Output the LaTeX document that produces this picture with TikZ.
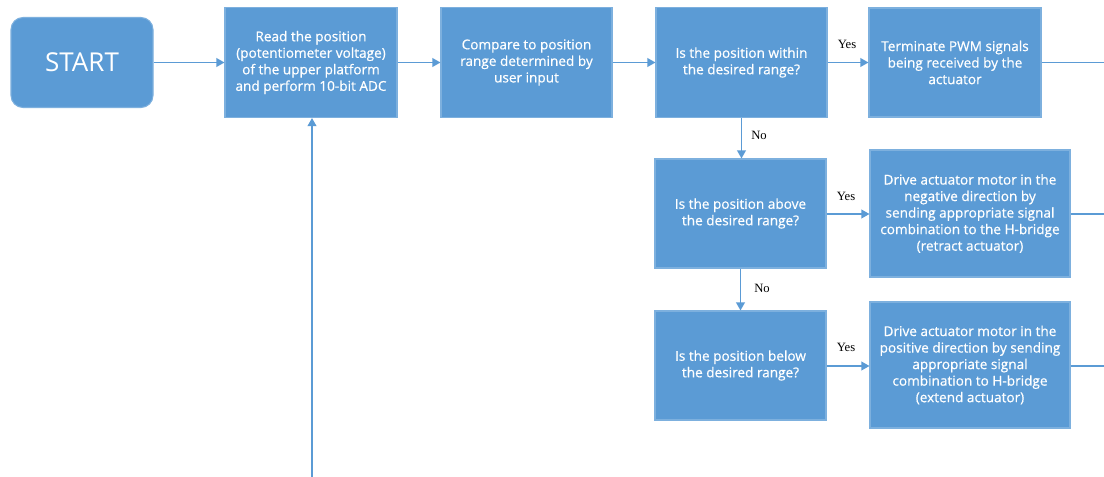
\documentclass[tikz,border=0pt]{standalone}
\usepackage{fontspec}
\setmainfont{Open Sans}
\newfontfamily\boxfont[FakeBold=0.6]{Open Sans}
\newfontfamily\lblfont{Liberation Serif}
\usetikzlibrary{arrows.meta}
\definecolor{boxblue}{HTML}{5B9BD5}
\definecolor{boxedge}{HTML}{7DB0DE}
\definecolor{linkblue}{HTML}{5B9BD5}
\tikzset{
  procbox/.style={fill=boxblue, draw=boxedge, line width=0.8pt, text=white,
    align=center, inner sep=2pt, font=\boxfont\fontsize{10.2}{12.4}\selectfont},
  startbox/.style={fill=boxblue, draw=boxedge, line width=0.8pt, text=white,
    rounded corners=9pt, font=\fontsize{19.5}{22}\selectfont},
  link/.style={draw=linkblue, line width=1.1pt, -{Triangle[length=6pt,width=6.5pt]}},
  plainlink/.style={draw=linkblue, line width=1.1pt},
  lbl/.style={font=\lblfont\fontsize{9.5}{11}\selectfont, text=black, inner sep=0pt}
}
\begin{document}
\begin{tikzpicture}[x=0.75pt,y=-0.75pt]
\useasboundingbox (0,0) rectangle (1104,476);
\clip (0,0) rectangle (1104,476);
\fill[white] (0,0) rectangle (1104,476);

\node[startbox, minimum width=106.5pt, minimum height=67.5pt] (start) at (82,62.5) {START};
\node[procbox, minimum width=129pt, minimum height=82.5pt] (read) at (311,62.5)
  {Read the position\\(potentiometer voltage)\\of the upper platform\\and perform 10-bit ADC};
\node[procbox, minimum width=128.25pt, minimum height=82.5pt] (cmp) at (526.5,62.5)
  {Compare to position\\range determined by\\user input};
\node[procbox, minimum width=128.25pt, minimum height=82.5pt] (within) at (741.5,62.5)
  {Is the position within\\the desired range?};
\node[procbox, minimum width=129pt, minimum height=81.75pt] (term) at (955,62.5)
  {Terminate PWM signals\\being received by the\\actuator};
\node[procbox, minimum width=128.25pt, minimum height=81.75pt] (above) at (740.5,213.5)
  {Is the position above\\the desired range?};
\node[procbox, minimum width=150pt, minimum height=95.25pt] (neg) at (970,213.5)
  {Drive actuator motor in the\\negative direction by\\sending appropriate signal\\combination to the H-bridge\\(retract actuator)};
\node[procbox, minimum width=128.25pt, minimum height=81.75pt] (below) at (740.5,365.5)
  {Is the position below\\the desired range?};
\node[procbox, minimum width=150pt, minimum height=94.5pt] (pos) at (970,365)
  {Drive actuator motor in the\\positive direction by sending\\appropriate signal\\combination to H-bridge\\(extend actuator)};

\coordinate (out1) at (1106,62.5);
\coordinate (out2) at (1112,214);
\coordinate (out3) at (1112,366);
\coordinate (loop) at (312,480);

\draw[link] (start.east) -- (read.west);
\draw[link] (read.east) -- (cmp.west);
\draw[link] (cmp.east) -- (within.west);
\draw[link] (within.east) -- (term.west);
\draw[plainlink] (term.east) -- (out1);
\draw[link] (within.south) -- (above.north -| within.south);
\draw[link] (above.south) -- (below.north);
\draw[link] (above.east |- 0,214) -- (neg.west |- 0,214);
\draw[link] (below.east |- 0,366) -- (pos.west |- 0,366);
\draw[link] (neg.east |- 0,214) -- (out2);
\draw[link] (pos.east |- 0,366) -- (out3);
\draw[link] (loop) -- (read.south -| loop);

\node[lbl] (y1) at (847,44) {Yes};
\node[lbl] (y2) at (846,196) {Yes};
\node[lbl] (y3) at (846,347) {Yes};
\node[lbl] (n1) at (759,135) {No};
\node[lbl] (n2) at (762,288) {No};
\end{tikzpicture}
\end{document}
